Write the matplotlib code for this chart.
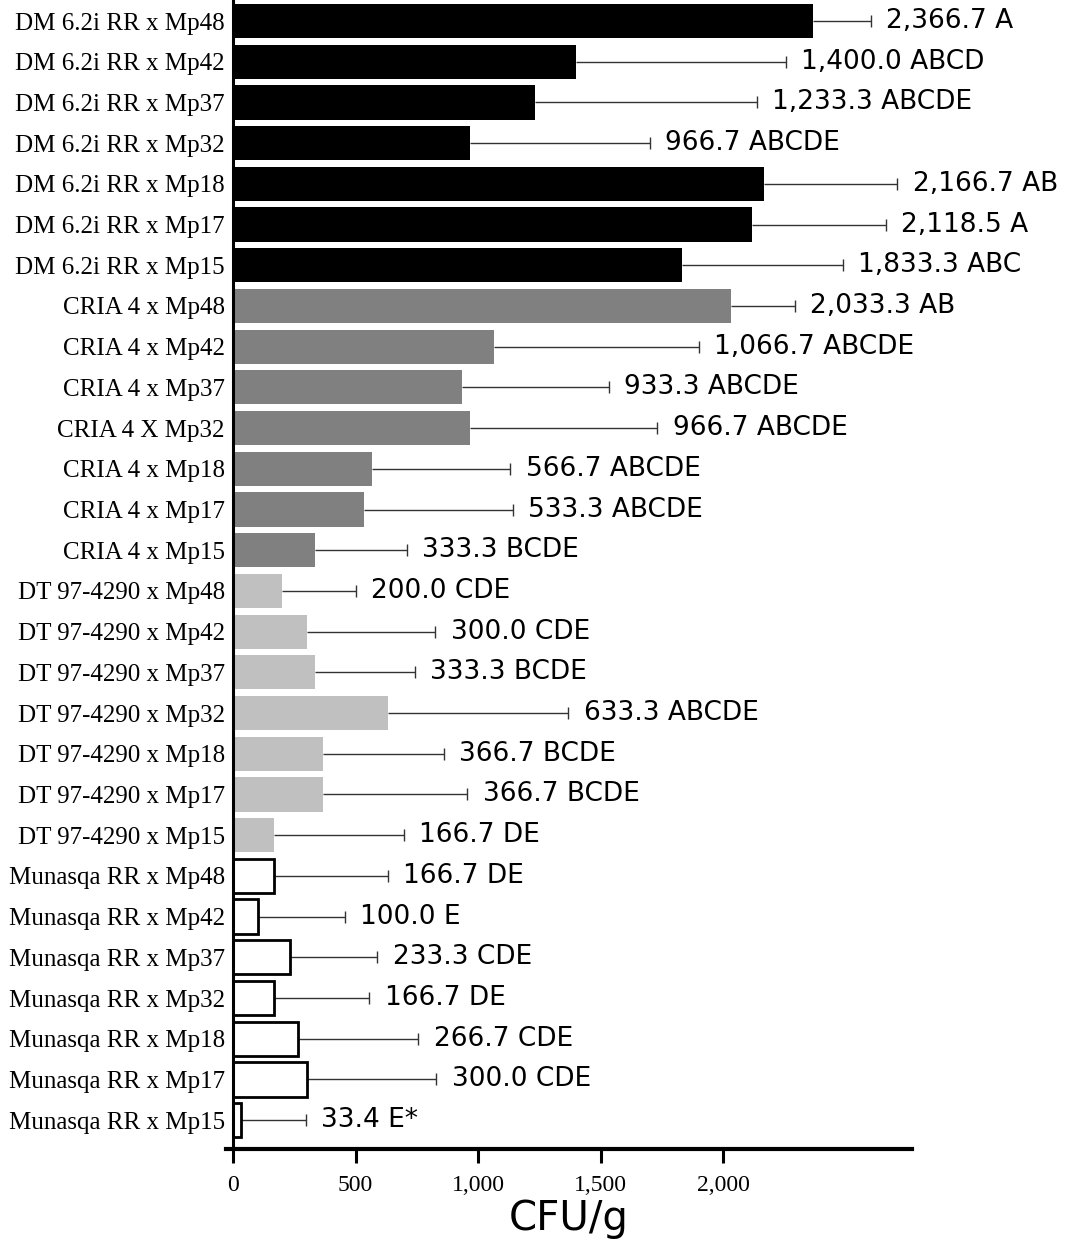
import numpy as np
import matplotlib
matplotlib.use('Agg')
import matplotlib.pyplot as plt

# crosses, top to bottom
labels = [
    'DM 6.2i RR x Mp48', 'DM 6.2i RR x Mp42', 'DM 6.2i RR x Mp37', 'DM 6.2i RR x Mp32',
    'DM 6.2i RR x Mp18', 'DM 6.2i RR x Mp17', 'DM 6.2i RR x Mp15',
    'CRIA 4 x Mp48', 'CRIA 4 x Mp42', 'CRIA 4 x Mp37', 'CRIA 4 X Mp32',
    'CRIA 4 x Mp18', 'CRIA 4 x Mp17', 'CRIA 4 x Mp15',
    'DT 97-4290 x Mp48', 'DT 97-4290 x Mp42', 'DT 97-4290 x Mp37', 'DT 97-4290 x Mp32',
    'DT 97-4290 x Mp18', 'DT 97-4290 x Mp17', 'DT 97-4290 x Mp15',
    'Munasqa RR x Mp48', 'Munasqa RR x Mp42', 'Munasqa RR x Mp37', 'Munasqa RR x Mp32',
    'Munasqa RR x Mp18', 'Munasqa RR x Mp17', 'Munasqa RR x Mp15',
]

# mean CFU/g
cfu = [
    2366.7, 1400.0, 1233.3, 966.7, 2166.7, 2118.5, 1833.3,
    2033.3, 1066.7, 933.3, 966.7, 566.7, 533.3, 333.3,
    200.0, 300.0, 333.3, 633.3, 366.7, 366.7, 166.7,
    166.7, 100.0, 233.3, 166.7, 266.7, 300.0, 33.4,
]

# standard error (upper side only)
err = [
    235, 855, 905, 735, 545, 545, 655,
    260, 835, 600, 765, 565, 610, 375,
    300, 525, 410, 735, 495, 590, 530,
    465, 355, 355, 390, 490, 530, 265,
]

# mean separation letters
letters = [
    'A', 'ABCD', 'ABCDE', 'ABCDE', 'AB', 'A', 'ABC',
    'AB', 'ABCDE', 'ABCDE', 'ABCDE', 'ABCDE', 'ABCDE', 'BCDE',
    'CDE', 'CDE', 'BCDE', 'ABCDE', 'BCDE', 'BCDE', 'DE',
    'DE', 'E', 'CDE', 'DE', 'CDE', 'CDE', 'E*',
]

# one fill per cultivar, 7 crosses each
group_colors = ['#000000', '#808080', '#c0c0c0', '#ffffff']
colors = [c for c in group_colors for _ in range(7)]
edges = ['none'] * 21 + ['black'] * 7

fig = plt.figure(figsize=(10.68, 12.43), dpi=100)
ax = fig.add_axes([226 / 1068, 0.0756, 686 / 1068, 0.9244])

for s in ['top', 'right']:
    ax.spines[s].set_visible(False)
# moving the spine resets the ticks, so do it before styling them
ax.spines['left'].set_position(('data', 0))
ax.spines['left'].set_linewidth(2.2)
ax.spines['bottom'].set_linewidth(3.0)

y = np.arange(len(labels))
ax.barh(y, cfu, height=0.84, color=colors, edgecolor=edges, linewidth=2.0, zorder=2)
_, caps, _ = ax.errorbar(cfu, y, xerr=[np.zeros(len(err)), err], fmt='none',
                         ecolor='#333333', elinewidth=1.0, capsize=4.5,
                         capthick=1.0, zorder=1)
caps[0].set_visible(False)  # no cap at the bar end

for yi, v, e, l in zip(y, cfu, err, letters):
    ax.annotate(f'{v:,.1f} {l}', xy=(v + e, yi), xytext=(11, 0),
                textcoords='offset points', va='center', ha='left',
                fontsize=19, family='DejaVu Sans', color='black')

ax.set_ylim(27.71, -0.516)
ax.set_xlim(-29, 2771)
ax.set_yticks(y)
ax.set_yticklabels(labels, family='Liberation Serif', fontsize=18)
ax.tick_params(axis='y', length=0, pad=6)

ax.set_xticks([0, 500, 1000, 1500, 2000])
ax.set_xticklabels(['0', '500', '1,000', '1,500', '2,000'],
                   family='Liberation Serif', fontsize=17)
ax.tick_params(axis='x', length=10, width=2.2, direction='out', pad=9)

ax.set_xlabel('CFU/g', family='DejaVu Sans', fontsize=29, labelpad=2)

fig.savefig('out.png', dpi=100)
